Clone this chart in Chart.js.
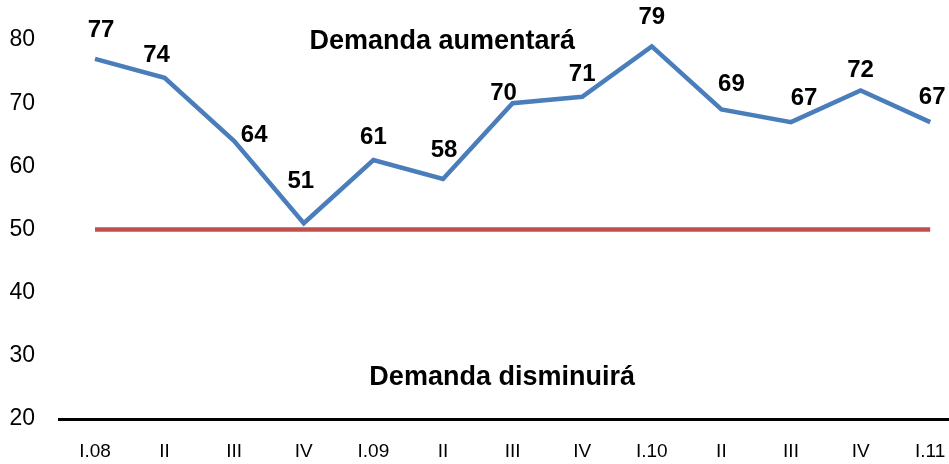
<!DOCTYPE html>
<html lang="es">
<head>
<meta charset="UTF-8">
<title>Demanda</title>
<script src="https://cdn.jsdelivr.net/npm/chart.js"></script>
<style>
  html, body { margin: 0; padding: 0; background: #fff; }
  #chart { display: block; }
</style>
</head>
<body>
<canvas id="chart" width="949" height="464"></canvas>
<script>
// categorias (trimestres)
const quarters = ['I.08', 'II', 'III', 'IV', 'I.09', 'II', 'III', 'IV', 'I.10', 'II', 'III', 'IV', 'I.11'];
// valores del indice
const demandValues = [77, 74, 64, 51, 61, 58, 70, 71, 79, 69, 67, 72, 67];
// linea neutral
const neutralValues = [50, 50, 50, 50, 50, 50, 50, 50, 50, 50, 50, 50, 50];
// ticks del eje y
const yTicks = [20, 30, 40, 50, 60, 70, 80];

// desplazamiento de cada etiqueta respecto a su punto (px)
const labelOffsets = [[6, -29], [-8, -23], [20, -6], [-3, -42], [0, -23], [1, -29], [-9, -10],
                      [0, -22], [0, -29], [10, -25], [13, -24], [0, -20], [2, -25]];

const toPoints = vals => vals.map((v, i) => ({ x: i, y: v }));

// etiquetas de datos y textos dentro del grafico
const labelsPlugin = {
    id: 'labelsPlugin',
    afterDatasetsDraw(chart) {
        const ctx = chart.ctx;
        const meta = chart.getDatasetMeta(0);
        ctx.save();
        ctx.fillStyle = '#000';
        ctx.textAlign = 'center';
        ctx.textBaseline = 'middle';
        ctx.font = 'bold 24px "Liberation Sans", Arial, sans-serif';
        meta.data.forEach((pt, i) => {
            const off = labelOffsets[i];
            ctx.fillText(String(demandValues[i]), pt.x + off[0], pt.y + off[1]);
        });
        const xs = chart.scales.x, ys = chart.scales.y;
        ctx.font = 'bold 27px "Liberation Sans", Arial, sans-serif';
        ctx.fillText('Demanda aumentará', xs.getPixelForValue(4.99), ys.getPixelForValue(79.7));
        ctx.fillText('Demanda disminuirá', xs.getPixelForValue(5.85), ys.getPixelForValue(26.5));
        ctx.restore();
    }
};

new Chart(document.getElementById('chart'), {
    type: 'line',
    data: {
        datasets: [{
            data: toPoints(demandValues),
            borderColor: '#4A7EBB',
            borderWidth: 4.5,
            pointRadius: 0,
            tension: 0,
            fill: false
        }, {
            data: toPoints(neutralValues),
            borderColor: '#C0504D',
            borderWidth: 4.5,
            pointRadius: 0,
            tension: 0,
            fill: false
        }]
    },
    options: {
        responsive: false,
        animation: false,
        layout: { padding: { top: 40, right: 0, left: 0, bottom: 0 } },
        plugins: {
            legend: { display: false },
            tooltip: { enabled: false }
        },
        scales: {
            x: {
                type: 'linear',
                min: -0.517,
                max: 12.27,
                grid: { display: false, drawTicks: false },
                border: { display: true, color: '#000', width: 3 },
                afterBuildTicks: scale => { scale.ticks = quarters.map((_, i) => ({ value: i })); },
                afterFit: scale => {
                    scale.height = 45;
                    scale.paddingLeft = 0;
                    scale.paddingRight = 0;
                },
                ticks: {
                    autoSkip: false,
                    maxRotation: 0,
                    padding: 21,
                    color: '#000',
                    font: { family: '"Liberation Sans", Arial, sans-serif', size: 19 },
                    callback: value => quarters[value]
                }
            },
            y: {
                min: 20,
                max: 80,
                grid: { display: false, drawTicks: false },
                border: { display: false },
                afterBuildTicks: scale => { scale.ticks = yTicks.map(v => ({ value: v })); },
                afterFit: scale => { scale.width = 59; },
                ticks: {
                    padding: 24,
                    color: '#000',
                    font: { family: '"Liberation Sans", Arial, sans-serif', size: 23 }
                }
            }
        }
    },
    plugins: [labelsPlugin]
});
</script>
</body>
</html>
